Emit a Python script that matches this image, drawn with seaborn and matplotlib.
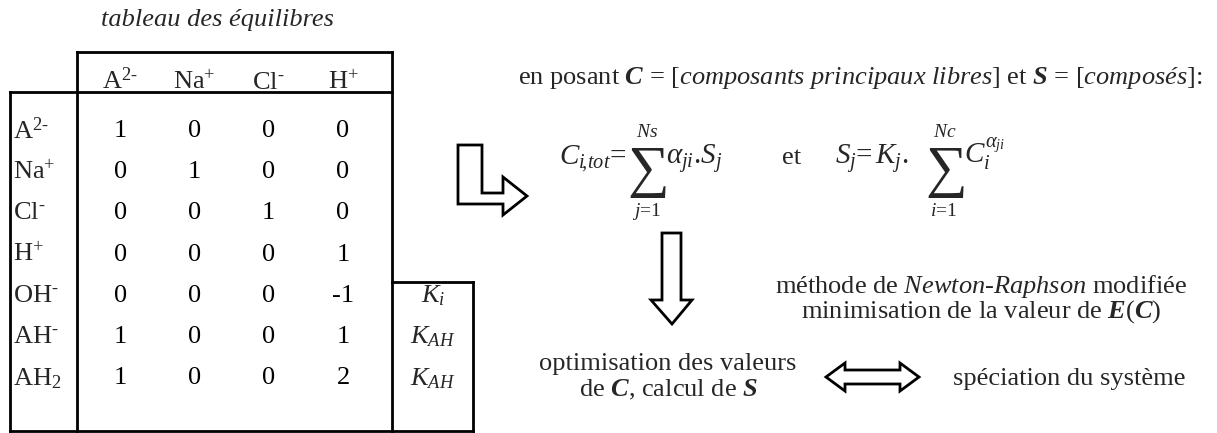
import pandas as pd
import matplotlib
matplotlib.use('Agg')
import matplotlib.pyplot as plt
import seaborn as sns
from matplotlib.colors import ListedColormap
from matplotlib.patches import Polygon

sns.set_theme(style='white')
plt.rcParams['font.family'] = ['Liberation Serif', 'DejaVu Serif']
plt.rcParams['mathtext.fontset'] = 'custom'
plt.rcParams['mathtext.rm'] = 'Liberation Serif'
plt.rcParams['mathtext.it'] = 'Liberation Serif:italic'
plt.rcParams['mathtext.bf'] = 'Liberation Serif:italic:bold'

# // tableau des équilibres
composants = [r'A$^{2\text{-}}$', 'Na$^{+}$', r'Cl$^{\text{-}}$', 'H$^{+}$']
especes = [r'A$^{2\text{-}}$', 'Na$^{+}$', r'Cl$^{\text{-}}$', 'H$^{+}$',
           r'OH$^{\text{-}}$', r'AH$^{\text{-}}$', 'AH$_{2}$']
coef_A = [1, 0, 0, 0, 0, 1, 1]
coef_Na = [0, 1, 0, 0, 0, 0, 0]
coef_Cl = [0, 0, 1, 0, 0, 0, 0]
coef_H = [0, 0, 0, 1, -1, 1, 2]
constantes = ['', '', '', '', '$K_i$', '$K_{AH}$', '$K_{AH}$']

df = pd.DataFrame({'A': coef_A, 'Na': coef_Na, 'Cl': coef_Cl, 'H': coef_H}, index=especes)

W, H = 1217, 433
fs = 19

fig = plt.figure(figsize=(W / 100, H / 100), dpi=100)

# fond en pixels pour les cadres, fleches et textes
ax = fig.add_axes([0, 0, 1, 1])
ax.set_xlim(0, W)
ax.set_ylim(H, 0)
ax.axis('off')

# tableau -> heatmap blanche avec annotations
tab_l, tab_t, cw, rh = 83, 110.4, 74.3, 41.2
ax_tab = fig.add_axes([tab_l / W, 1 - (tab_t + 7 * rh) / H, 4 * cw / W, 7 * rh / H])
sns.heatmap(df, ax=ax_tab, annot=True, fmt='d', cbar=False,
            cmap=ListedColormap(['white']), xticklabels=False, yticklabels=False,
            annot_kws={'color': 'black', 'fontsize': fs})
ax_tab.patch.set_alpha(0)

def px_x(x):
    return (x - tab_l) / cw

def px_y(y):
    return (y - tab_t) / rh

for j, lab in enumerate(composants):
    ax_tab.text(j + 0.5, px_y(89), lab, ha='center', va='baseline', fontsize=fs, clip_on=False)
for i, lab in enumerate(especes):
    ax_tab.text(px_x(13), i + 0.5, lab, ha='left', va='center', fontsize=fs, clip_on=False)
    if constantes[i]:
        ax_tab.text(px_x(433), i + 0.5, constantes[i], ha='center', va='center', fontsize=fs, clip_on=False)

# cadres
lw = 2
lines = [
    ([77, 392], [52, 52]),
    ([77, 77], [52, 431]),
    ([392, 392], [52, 431]),
    ([10, 392], [92, 92]),
    ([10, 10], [92, 431]),
    ([10, 473], [431, 431]),
    ([392, 473], [282, 282]),
    ([473, 473], [282, 431]),
]
for xs, ys in lines:
    ax.plot(xs, ys, color='black', lw=lw, solid_capstyle='projecting')

ax.text(217, 26, 'tableau des équilibres', style='italic', ha='center', va='baseline', fontsize=fs)

# fleches creuses
fleche_L = [(458, 145), (482, 145), (482, 193), (503, 193), (503, 177), (527, 196),
            (503, 215), (503, 204), (458, 204)]
fleche_bas = [(662, 233), (681, 233), (681, 300), (692, 300), (672, 324), (651, 300), (662, 300)]
fleche_double = [(826, 377), (845, 363), (845, 370), (900, 370), (900, 363), (919, 377),
                 (900, 391), (900, 384), (845, 384), (845, 391)]
for pts in [fleche_L, fleche_bas, fleche_double]:
    ax.add_patch(Polygon(pts, closed=True, fc='white', ec='black', lw=lw, joinstyle='miter'))

# textes
ax.text(518, 84, r'en posant $\mathbf{C}$ = [$\mathit{composants}$ $\mathit{principaux}$ '
        r'$\mathit{libres}$] et $\mathbf{S}$ = [$\mathit{composés}$]:',
        ha='left', va='baseline', fontsize=fs)

fsf = 21
yb = 164
ax.text(559, yb, r'$C_{i\!,\!tot}$=', ha='left', va='baseline', fontsize=fsf)
ax.text(647, 186, r'$\sum$', ha='center', va='baseline', fontsize=42)
ax.text(647, 137, r'$Ns$', ha='center', va='baseline', fontsize=14)
ax.text(647, 216, r'$j$=1', ha='center', va='baseline', fontsize=14)
ax.text(666, yb, r'$\alpha_{ji}$.$S_j$', ha='left', va='baseline', fontsize=fsf)

ax.text(792, yb, 'et', ha='center', va='baseline', fontsize=fs)

ax.text(835, yb, r'$S_j$=', ha='left', va='baseline', fontsize=fsf)
ax.text(875, yb, r'$K_j$.', ha='left', va='baseline', fontsize=fsf)
ax.text(945, 186, r'$\sum$', ha='center', va='baseline', fontsize=42)
ax.text(945, 137, r'$Nc$', ha='center', va='baseline', fontsize=14)
ax.text(944, 216, r'$i$=1', ha='center', va='baseline', fontsize=14)
ax.text(964, yb, r'$C_i^{\alpha_{ji}}$', ha='left', va='baseline', fontsize=fsf)

ax.text(981, 293, r'méthode de $\mathit{Newton}$-$\mathit{Raphson}$ modifiée',
        ha='center', va='baseline', fontsize=fs)
ax.text(981, 318, r'minimisation de la valeur de $\mathbf{E}$($\mathbf{C}$)',
        ha='center', va='baseline', fontsize=fs)
ax.text(668, 370, 'optimisation des valeurs', ha='center', va='baseline', fontsize=fs)
ax.text(668, 396, r'de $\mathbf{C}$, calcul de $\mathbf{S}$', ha='center', va='baseline', fontsize=fs)
ax.text(1069, 385, 'spéciation du système', ha='center', va='baseline', fontsize=fs)

fig.savefig('out.png', dpi=100)
